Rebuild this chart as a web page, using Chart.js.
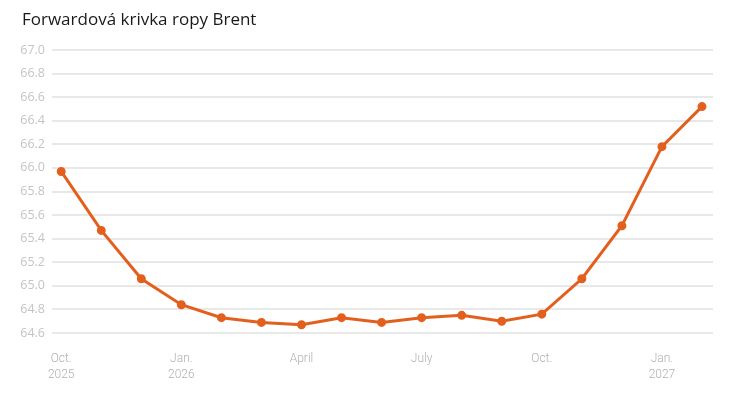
<!DOCTYPE html>
<html>
<head>
<meta charset="utf-8">
<script src="https://cdn.jsdelivr.net/npm/chart.js@4.4.1/dist/chart.umd.min.js"></script>
<style>
  html, body { margin: 0; padding: 0; background: #fff; }
  #wrap { width: 738px; height: 395px; }
</style>
</head>
<body>
<div id="wrap"><canvas id="chart-brent" width="738" height="395"></canvas></div>
<script>
// monthly forward curve, Oct 2025 .. Feb 2027
const months = ['Oct. 2025', 'Nov. 2025', 'Dec. 2025', 'Jan. 2026', 'Feb. 2026', 'Mar. 2026',
  'Apr. 2026', 'May 2026', 'Jun. 2026', 'Jul. 2026', 'Aug. 2026', 'Sep. 2026',
  'Oct. 2026', 'Nov. 2026', 'Dec. 2026', 'Jan. 2027', 'Feb. 2027'];
const prices = [65.97, 65.47, 65.06, 64.84, 64.73, 64.69, 64.67, 64.73, 64.69,
  64.73, 64.75, 64.70, 64.76, 65.06, 65.51, 66.18, 66.52];

// which months get a label on the x axis
const tickIdx = [0, 3, 6, 9, 12, 15];
const tickLabels = [['Oct.', '2025'], ['Jan.', '2026'], ['April'], ['July'], ['Oct.'], ['Jan.', '2027']];

const chartTitle = 'Forwardová krivka ropy Brent';
const yMin = 64.6, yMax = 67.0, yStep = 0.2;
const orange = '#e35f1e';

// title drawn at the left edge of the page, not of the plot
const titlePlugin = {
  id: 'leftTitle',
  afterDraw(chart) {
    const c = chart.ctx;
    c.save();
    c.font = '17px "Open Sans"';
    c.fillStyle = '#1a1a1a';
    c.textBaseline = 'middle';
    c.textAlign = 'left';
    c.fillText(chartTitle, 22, 20);
    c.restore();
  }
};

const ctx = document.getElementById('chart-brent').getContext('2d');
new Chart(ctx, {
  type: 'line',
  data: {
    datasets: [{
      label: 'Brent',
      data: prices.map((p, i) => ({ x: i, y: p })),
      borderColor: orange,
      backgroundColor: orange,
      borderWidth: 3,
      pointRadius: 3,
      pointHoverRadius: 3,
      tension: 0
    }]
  },
  plugins: [titlePlugin],
  options: {
    responsive: false,
    animation: false,
    layout: { padding: { left: 0, right: 25, top: 50, bottom: 0 } },
    plugins: {
      legend: { display: false },
      tooltip: { enabled: false }
    },
    scales: {
      x: {
        type: 'linear',
        min: -0.23,
        max: months.length - 1 + 0.275,
        grid: { display: false },
        border: { display: false },
        afterBuildTicks: axis => { axis.ticks = tickIdx.map(v => ({ value: v })); },
        afterFit: axis => { axis.height = 62; },
        ticks: {
          autoSkip: false,
          maxRotation: 0,
          padding: 10,
          color: '#b0b0b0',
          font: { family: 'Roboto', size: 12, weight: 300, lineHeight: 1.35 },
          callback: v => tickLabels[tickIdx.indexOf(v)]
        }
      },
      y: {
        min: yMin,
        max: yMax,
        grid: { color: '#e8e8e8', lineWidth: 2, drawTicks: false },
        border: { display: false },
        afterFit: axis => { axis.width = 52; },
        ticks: {
          stepSize: yStep,
          padding: 7,
          color: '#c4c4c4',
          font: { family: 'Open Sans', size: 12.5 },
          callback: v => Number(v).toFixed(1)
        }
      }
    }
  }
});
</script>
</body>
</html>
